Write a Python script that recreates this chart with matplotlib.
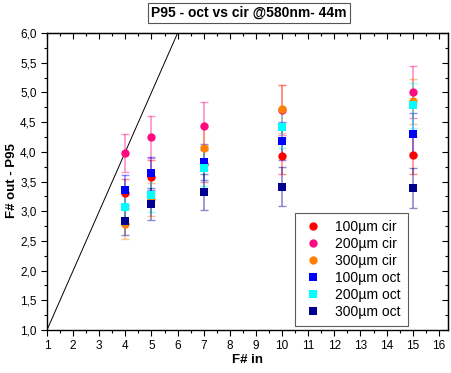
import matplotlib
matplotlib.use("Agg")
import matplotlib.pyplot as plt
from matplotlib.ticker import MultipleLocator, FuncFormatter
import numpy as np

plt.rcParams['font.family'] = ['Liberation Sans', 'DejaVu Sans']

fnum_in = [4, 5, 7, 10, 15]
labels = ["100µm cir", "200µm cir", "300µm cir", "100µm oct", "200µm oct", "300µm oct"]
colors = ["#FF0000", "#FF0A80", "#FF8000", "#0000FF", "#00FFFF", "#000090"]
markers = ["o", "o", "o", "s", "s", "s"]

cir100 = [3.30, 3.58, 3.80, 3.93, 3.95]
cir200 = [3.98, 4.25, 4.43, 4.70, 5.01]
cir300 = [2.78, 3.20, 4.06, 4.72, 4.85]
oct100 = [3.36, 3.64, 3.83, 4.18, 4.30]
oct200 = [3.07, 3.27, 3.73, 4.41, 4.78]
oct300 = [2.84, 3.12, 3.32, 3.41, 3.39]

err_cir100 = [0.25, 0.28, 0.30, 0.30, 0.32]
err_cir200 = [0.32, 0.35, 0.40, 0.42, 0.44]
err_cir300 = [0.25, 0.28, 0.35, 0.40, 0.38]
err_oct100 = [0.25, 0.28, 0.30, 0.32, 0.35]
err_oct200 = [0.25, 0.28, 0.30, 0.35, 0.38]
err_oct300 = [0.24, 0.27, 0.30, 0.33, 0.34]

series = [cir100, cir200, cir300, oct100, oct200, oct300]
errors = [err_cir100, err_cir200, err_cir300, err_oct100, err_oct200, err_oct300]

line_x = [1, 6]
line_y = [1, 6]

fig = plt.figure(figsize=(4.52, 3.73), dpi=100)
ax = fig.add_axes([47/452, 1-330/373, (448-47)/452, (330-33)/373])

ax.plot(line_x, line_y, color="black", lw=0.7, zorder=1)

for y, e, c in zip(series, errors, colors):
    ax.errorbar(fnum_in, y, yerr=e, fmt='none', ecolor=c, elinewidth=1.2,
                capsize=3, capthick=1, alpha=0.45, zorder=2)
for y, c, m, lab in zip(series, colors, markers, labels):
    ax.plot(fnum_in, y, linestyle='none', marker=m, color=c,
            markersize=6 if m == 'o' else 5.3, markeredgewidth=0, label=lab, zorder=3)

ax.set_xlim(1, 16.35)
ax.set_ylim(1.0, 6.0)
ax.xaxis.set_major_locator(MultipleLocator(1))
ax.xaxis.set_minor_locator(MultipleLocator(0.5))
ax.yaxis.set_major_locator(MultipleLocator(0.5))
ax.yaxis.set_minor_locator(MultipleLocator(0.25))
ax.yaxis.set_major_formatter(FuncFormatter(lambda v, p: f"{v:.1f}".replace('.', ',')))

ax.tick_params(which='both', direction='out', labelsize=8.5, width=0.8)
ax.tick_params(which='major', length=4)
ax.tick_params(which='minor', length=2.5)
for spine in ax.spines.values():
    spine.set_linewidth(1.0)
secx = ax.secondary_xaxis('top')
secx.xaxis.set_major_locator(MultipleLocator(1))
secx.xaxis.set_minor_locator(MultipleLocator(0.5))
secx.tick_params(which='both', direction='in', labeltop=False, width=0.8)
secx.tick_params(which='major', length=4)
secx.tick_params(which='minor', length=2.5)
secy = ax.secondary_yaxis('right')
secy.yaxis.set_major_locator(MultipleLocator(0.5))
secy.yaxis.set_minor_locator(MultipleLocator(0.25))
secy.tick_params(which='both', direction='in', labelright=False, width=0.8)
secy.tick_params(which='major', length=4)
secy.tick_params(which='minor', length=2.5)

ax.set_xlabel("F# in", fontsize=9.5, fontweight='bold', labelpad=1)
ax.set_ylabel("F# out - P95", fontsize=9.5, fontweight='bold')
ax.yaxis.set_label_coords(18/452, 1-181/373, transform=fig.transFigure)

fig.text(249/452, 1-13/373, "P95 - oct vs cir @580nm- 44m", ha='center', va='center',
         fontsize=10, fontweight='bold',
         bbox=dict(boxstyle='square,pad=0.2', fc='white', ec='#555555', lw=0.8))

leg = ax.legend(loc='lower right', fontsize=10, frameon=True,
                fancybox=False, edgecolor='#333333', handletextpad=0.8,
                borderpad=0.5, labelspacing=0.22, handlelength=1.6, borderaxespad=0)
leg.set_bbox_to_anchor((408/452, 1-326/373), transform=fig.transFigure)
leg.get_frame().set_linewidth(0.8)

fig.savefig("out.png", dpi=100)
